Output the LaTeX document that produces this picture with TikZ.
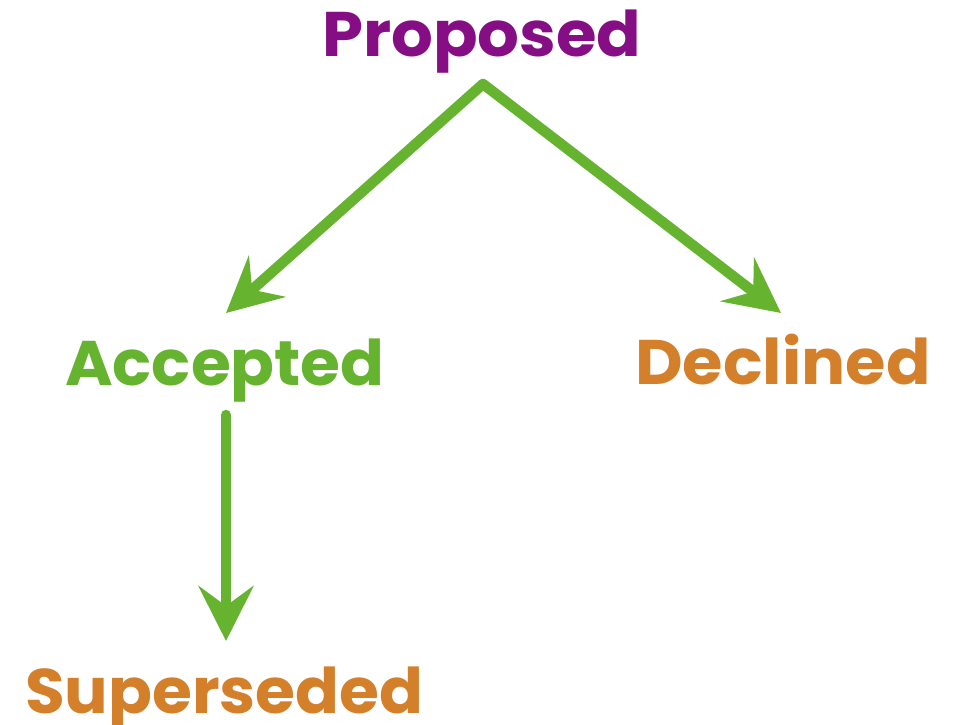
\documentclass[tikz,border=0pt]{standalone}
\usepackage{fontspec}
\usepackage{graphicx}
\setmainfont{Poppins}[BoldFont={* Bold}]
\usetikzlibrary{arrows.meta}
\definecolor{cpurple}{HTML}{850E85}
\definecolor{cgreen}{HTML}{66B330}
\definecolor{corange}{HTML}{D47F2A}
\tikzset{
  lbl/.style={inner sep=0pt, anchor=base west, font=\fontsize{63}{66}\selectfont\bfseries},
  conn/.style={draw=cgreen, line width=10.5pt, line cap=round,
    -{Stealth[length=55pt,width=55pt,inset=20pt]}, cgreen},
}
\begin{document}
\begin{tikzpicture}[x=1pt,y=-1pt]
\useasboundingbox (0,0) rectangle (954,725);
\node[lbl, text=cpurple] (prop) at (322,57) {\scalebox{1.043}[1]{Proposed}};
\node[lbl, text=cgreen] (acc) at (65,385) {\scalebox{1.026}[1]{Accepted}};
\node[lbl, text=corange] (dec) at (635,384) {\scalebox{1.04}[1]{Declined}};
\node[lbl, text=corange] (sup) at (25,713) {\scalebox{1.026}[1]{Superseded}};
\coordinate (apex) at (483,84);
\coordinate (tipA) at (226,313);
\coordinate (tipD) at (781,313);
\coordinate (accB) at (226,415);
\coordinate (tipS) at (226,641);
\draw[conn] (apex) -- (tipA);
\draw[conn] (apex) -- (tipD);
\draw[conn] (accB) -- (tipS);
\end{tikzpicture}
\end{document}
